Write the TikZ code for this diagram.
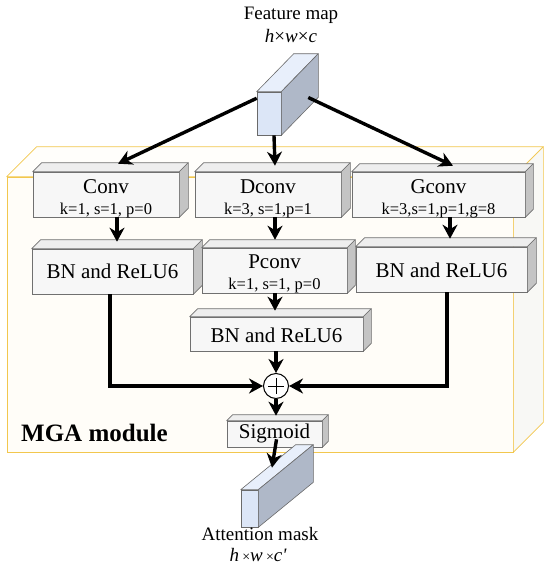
\documentclass[tikz,border=0pt]{standalone}
\usepackage{fontspec}
\setmainfont{Liberation Serif}
\usetikzlibrary{arrows.meta,calc}
\definecolor{blkfront}{HTML}{F7F7F7}
\definecolor{blktop}{HTML}{EEEEEE}
\definecolor{blkside}{HTML}{C4C4C4}
\definecolor{blkedge}{HTML}{707070}
\definecolor{cubfront}{HTML}{DCE6F7}
\definecolor{cubtop}{HTML}{E8EFFB}
\definecolor{cubside}{HTML}{AFB8C8}
\definecolor{cubedge}{HTML}{6A6A6A}
\definecolor{modfill}{HTML}{FFFDF8}
\definecolor{modtop}{HTML}{FFFEFB}
\definecolor{modside}{HTML}{F8F8F5}
\definecolor{modedge}{HTML}{F2C74E}
\tikzset{
  blkface/.style={draw=blkedge, fill=blkfront, line width=0.6pt, inner sep=0pt},
  blktopface/.style={draw=blkedge, fill=blktop, line width=0.6pt, line join=round},
  blksideface/.style={draw=blkedge, fill=blkside, line width=0.6pt, line join=round},
  cubface/.style={draw=cubedge, fill=cubfront, line width=0.6pt, inner sep=0pt},
  cubtopface/.style={draw=cubedge, fill=cubtop, line width=0.6pt, line join=round},
  cubsideface/.style={draw=cubedge, fill=cubside, line width=0.6pt, line join=round},
  modface/.style={draw=modedge, fill=modfill, line width=0.7pt, inner sep=0pt},
  modtopface/.style={draw=modedge, fill=modtop, line width=0.7pt, line join=round},
  modsideface/.style={draw=modedge, fill=modside, line width=0.7pt, line join=round},
  arr/.style={line width=3.4pt, -{Stealth[length=14pt,width=15pt,inset=4.5pt]}},
  bigtxt/.style={font=\fontsize{21}{24}\selectfont, inner sep=0pt, anchor=base},
  smalltxt/.style={font=\fontsize{16.5}{19}\selectfont, inner sep=0pt, anchor=base},
  lbltxt/.style={font=\fontsize{19}{22}\selectfont, inner sep=0pt, anchor=base},
}
\newcommand\blkbox[6]{%
  \node[blkface, minimum width=#4pt, minimum height=#5pt] (#1) at (#2,#3) {};
  \path[blktopface] (#1.north west) -- ++(#6,-#6) -- ($(#1.north east)+(#6,-#6)$) -- (#1.north east) -- cycle;
  \path[blksideface] (#1.north east) -- ++(#6,-#6) -- ($(#1.south east)+(#6,-#6)$) -- (#1.south east) -- cycle;
}
\newcommand\cubbox[7]{%
  \node[cubface, minimum width=#4pt, minimum height=#5pt] (#1) at (#2,#3) {};
  \path[cubtopface] (#1.north west) -- ++(#6,#7) -- ($(#1.north east)+(#6,#7)$) -- (#1.north east) -- cycle;
  \path[cubsideface] (#1.north east) -- ++(#6,#7) -- ($(#1.south east)+(#6,#7)$) -- (#1.south east) -- cycle;
}
\begin{document}
\begin{tikzpicture}[x=1pt,y=-1pt]
\useasboundingbox (0,0) rectangle (550,574);
% module box
\node[modface, minimum width=506pt, minimum height=275pt] (mga) at (260,314.5) {};
\path[modtopface] (mga.north west) -- ++(30,-30) -- ($(mga.north east)+(30,-30)$) -- (mga.north east) -- cycle;
\path[modsideface] (mga.north east) -- ++(30,-30) -- ($(mga.south east)+(30,-30)$) -- (mga.south east) -- cycle;
\node[font=\bfseries\fontsize{25}{28}\selectfont, inner sep=0pt, anchor=base west] (mgalbl) at (21,441) {MGA module};

% feature map
\node[lbltxt] (fmt) at (291,19) {Feature map};
\node[lbltxt] (fmd) at (291,42) {\itshape h\upshape×\itshape w\upshape×\itshape c};
\cubbox{fm}{269}{113.5}{24}{43}{37}{-38}

% first row
\blkbox{conv}{106}{194.5}{146}{45}{9}
\node[bigtxt] (convt) at (106,193) {Conv};
\node[smalltxt] (convp) at (106,214) {k=1, s=1, p=0};
\blkbox{dconv}{268}{194.5}{146}{45}{9}
\node[bigtxt] (dconvt) at (268,193) {Dconv};
\node[smalltxt] (dconvp) at (268,214) {k=3, s=1,p=1};
\blkbox{gconv}{438.5}{194.5}{173}{45}{8}
\node[bigtxt] (gconvt) at (438.5,193) {Gconv};
\node[smalltxt] (gconvp) at (438.5,214) {k=3,s=1,p=1,g=8};

% second row
\blkbox{lbn}{112.5}{271.5}{161}{45}{9}
\node[bigtxt] (lbnt) at (112.5,278.5) {BN and ReLU6};
\blkbox{pconv}{274.5}{270.5}{145}{45}{8}
\node[bigtxt] (pconvt) at (274.5,268.5) {Pconv};
\node[smalltxt] (pconvp) at (274.5,289.5) {k=1, s=1, p=0};
\blkbox{rbn}{441.5}{269.5}{171}{45}{9}
\node[bigtxt] (rbnt) at (441.5,277) {BN and ReLU6};

% third row
\blkbox{mbn}{276.5}{334}{173}{34}{8}
\node[bigtxt] (mbnt) at (276.5,342) {BN and ReLU6};

% plus
\node[circle, draw, line width=1pt, fill=white, minimum size=25pt, inner sep=0pt,
  path picture={\draw[line width=0.9pt] ($(path picture bounding box.center)+(-8,0)$) -- ++(16,0);
                \draw[line width=0.9pt] ($(path picture bounding box.center)+(0,-8)$) -- ++(0,16);}] (plus) at (276,386) {};

% sigmoid
\blkbox{sig}{274.5}{434}{95}{26}{6}
\node[bigtxt] (sigt) at (274.5,438) {Sigmoid};

% attention mask
\cubbox{mask}{249.5}{508.5}{17}{37}{55}{-45}
\node[lbltxt] (maskt) at (260,540) {Attention mask};
\node[lbltxt] (maskd) at (258,561) {\itshape h\,\upshape{\fontsize{14}{16}\selectfont×}\itshape w\,\upshape{\fontsize{14}{16}\selectfont×}\itshape c\textquotesingle};

% connectors
\draw[arr] ($(fm.north west)!0.15!(fm.south west)$) -- ($(conv.north)+(12,-8)$);
\draw[arr] ($(fm.south)+(5,0)$) -- ($(dconv.north)+(7,-6)$);
\draw[arr] ($(fm.east)+(27,-16)$) -- ($(gconv.north)+(14.5,-6)$);
\draw[arr] ($(conv.south)+(11,0)$) -- ($(lbn.north)+(4.5,-7)$);
\draw[arr] ($(dconv.south)+(7,0)$) -- ($(pconv.north)+(0.5,-8)$);
\draw[arr] ($(gconv.south)+(11.5,0)$) -- ($(rbn.north)+(8.5,-8)$);
\draw[arr] ($(pconv.south)+(0.5,0)$) -- ($(mbn.north)+(-1.5,-6)$);
\draw[arr] ($(mbn.south)+(-0.5,0)$) -- (plus.north);
\draw[arr] ($(lbn.south)+(-2.5,0)$) |- (plus.west);
\draw[arr] ($(rbn.south)+(5.5,0)$) |- (plus.east);
\draw[arr] (plus.south) -- ($(sig.north)+(1.5,-5)$);
\draw[arr] ($(sig.south)+(2,-8)$) -- ($(mask.north)+(22.5,-22)$);
\end{tikzpicture}
\end{document}
